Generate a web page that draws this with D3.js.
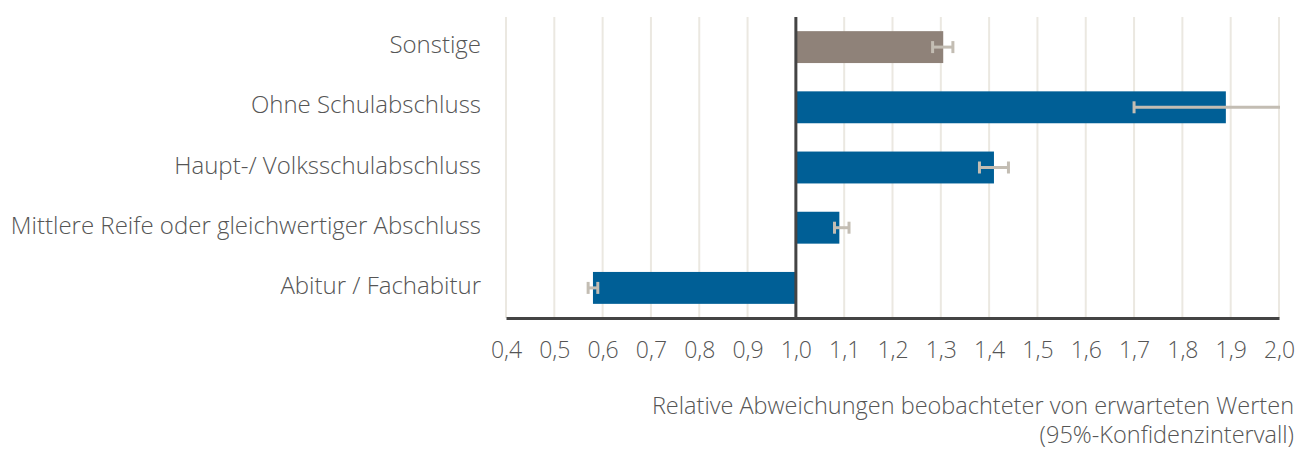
<!DOCTYPE html>
<html><head><meta charset="utf-8">
<script src="https://cdn.jsdelivr.net/npm/d3@7"></script>
<style>
html,body{margin:0;padding:0;background:#fff;}
svg text{font-family:"Open Sans",sans-serif;font-weight:300;fill:#555;}
</style></head>
<body>
<svg id="chart" width="1298" height="450"></svg>
<script>
const categories = ["Sonstige","Ohne Schulabschluss","Haupt-/ Volksschulabschluss","Mittlere Reife oder gleichwertiger Abschluss","Abitur / Fachabitur"];
const values = [1.305, 1.89, 1.41, 1.09, 0.58];
const ciLow  = [1.283, 1.70, 1.38, 1.08, 0.57];
const ciHigh = [1.325, 2.10, 1.44, 1.11, 0.59];
const barColors = ["#8f8279","#005f96","#005f96","#005f96","#005f96"];
const tickValues = [0.4,0.5,0.6,0.7,0.8,0.9,1.0,1.1,1.2,1.3,1.4,1.5,1.6,1.7,1.8,1.9,2.0];
const axisTitle = ["Relative Abweichungen beobachteter von erwarteten Werten","(95%-Konfidenzintervall)"];
const baseline = 1.0;

(function(){
const svg = d3.select("#chart");
const mL = 506, mR = 1279, mT = 17, mB = 318;
const x = d3.scaleLinear().domain([0.4, 2.0]).range([mL, mR]);
const y = d3.scaleBand().domain(categories).range([mT, mB]).paddingInner(0.47).paddingOuter(0.235);

svg.append("defs").append("clipPath").attr("id","clip")
  .append("rect").attr("x", mL).attr("y", 0).attr("width", mR - mL + 1).attr("height", 450);

// grid
svg.append("g").selectAll("line").data(tickValues).join("line")
  .attr("x1", d => x(d)).attr("x2", d => x(d))
  .attr("y1", mT).attr("y2", mB)
  .attr("stroke", "#ebe8e1").attr("stroke-width", 2);

// bars
svg.append("g").selectAll("rect").data(categories).join("rect")
  .attr("x", (d,i) => Math.min(x(values[i]), x(baseline)))
  .attr("y", d => y(d))
  .attr("width", (d,i) => Math.abs(x(values[i]) - x(baseline)))
  .attr("height", y.bandwidth())
  .attr("fill", (d,i) => barColors[i]);

// error bars
const eg = svg.append("g").attr("clip-path","url(#clip)").attr("stroke","#c3bdb3").attr("stroke-width",3);
categories.forEach((c,i) => {
  const cy = y(c) + y.bandwidth()/2;
  eg.append("line").attr("x1", x(ciLow[i])).attr("x2", x(ciHigh[i])).attr("y1", cy).attr("y2", cy);
  eg.append("line").attr("x1", x(ciLow[i])).attr("x2", x(ciLow[i])).attr("y1", cy-6).attr("y2", cy+6);
  eg.append("line").attr("x1", x(ciHigh[i])).attr("x2", x(ciHigh[i])).attr("y1", cy-6).attr("y2", cy+6);
});

// baseline vertical line
svg.append("line").attr("x1", x(baseline)).attr("x2", x(baseline))
  .attr("y1", mT).attr("y2", mB).attr("stroke","#444").attr("stroke-width",3);

// x axis
const xAxis = d3.axisBottom(x).tickValues(tickValues).tickSize(0).tickPadding(24)
  .tickFormat(d => d3.format(".1f")(d).replace(".", ","));
const ax = svg.append("g").attr("transform", `translate(0,${mB})`).call(xAxis);
ax.select(".domain").attr("stroke","#444").attr("stroke-width",3);
ax.selectAll("text").attr("font-size", 23).attr("fill","#555").style("font-family",'"Open Sans",sans-serif').style("font-weight",300);

// y labels
svg.append("g").selectAll("text").data(categories).join("text")
  .attr("x", 481).attr("y", d => y(d) + y.bandwidth()/2 + 6)
  .attr("text-anchor","end")
  .attr("font-size", 24).text(d => d);

// axis title
svg.append("g").selectAll("text").data(axisTitle).join("text")
  .attr("x", 1294).attr("y", (d,i) => 414 + i*29)
  .attr("text-anchor","end").attr("font-size", 23.5).text(d => d);
})();
</script>
</body></html>
